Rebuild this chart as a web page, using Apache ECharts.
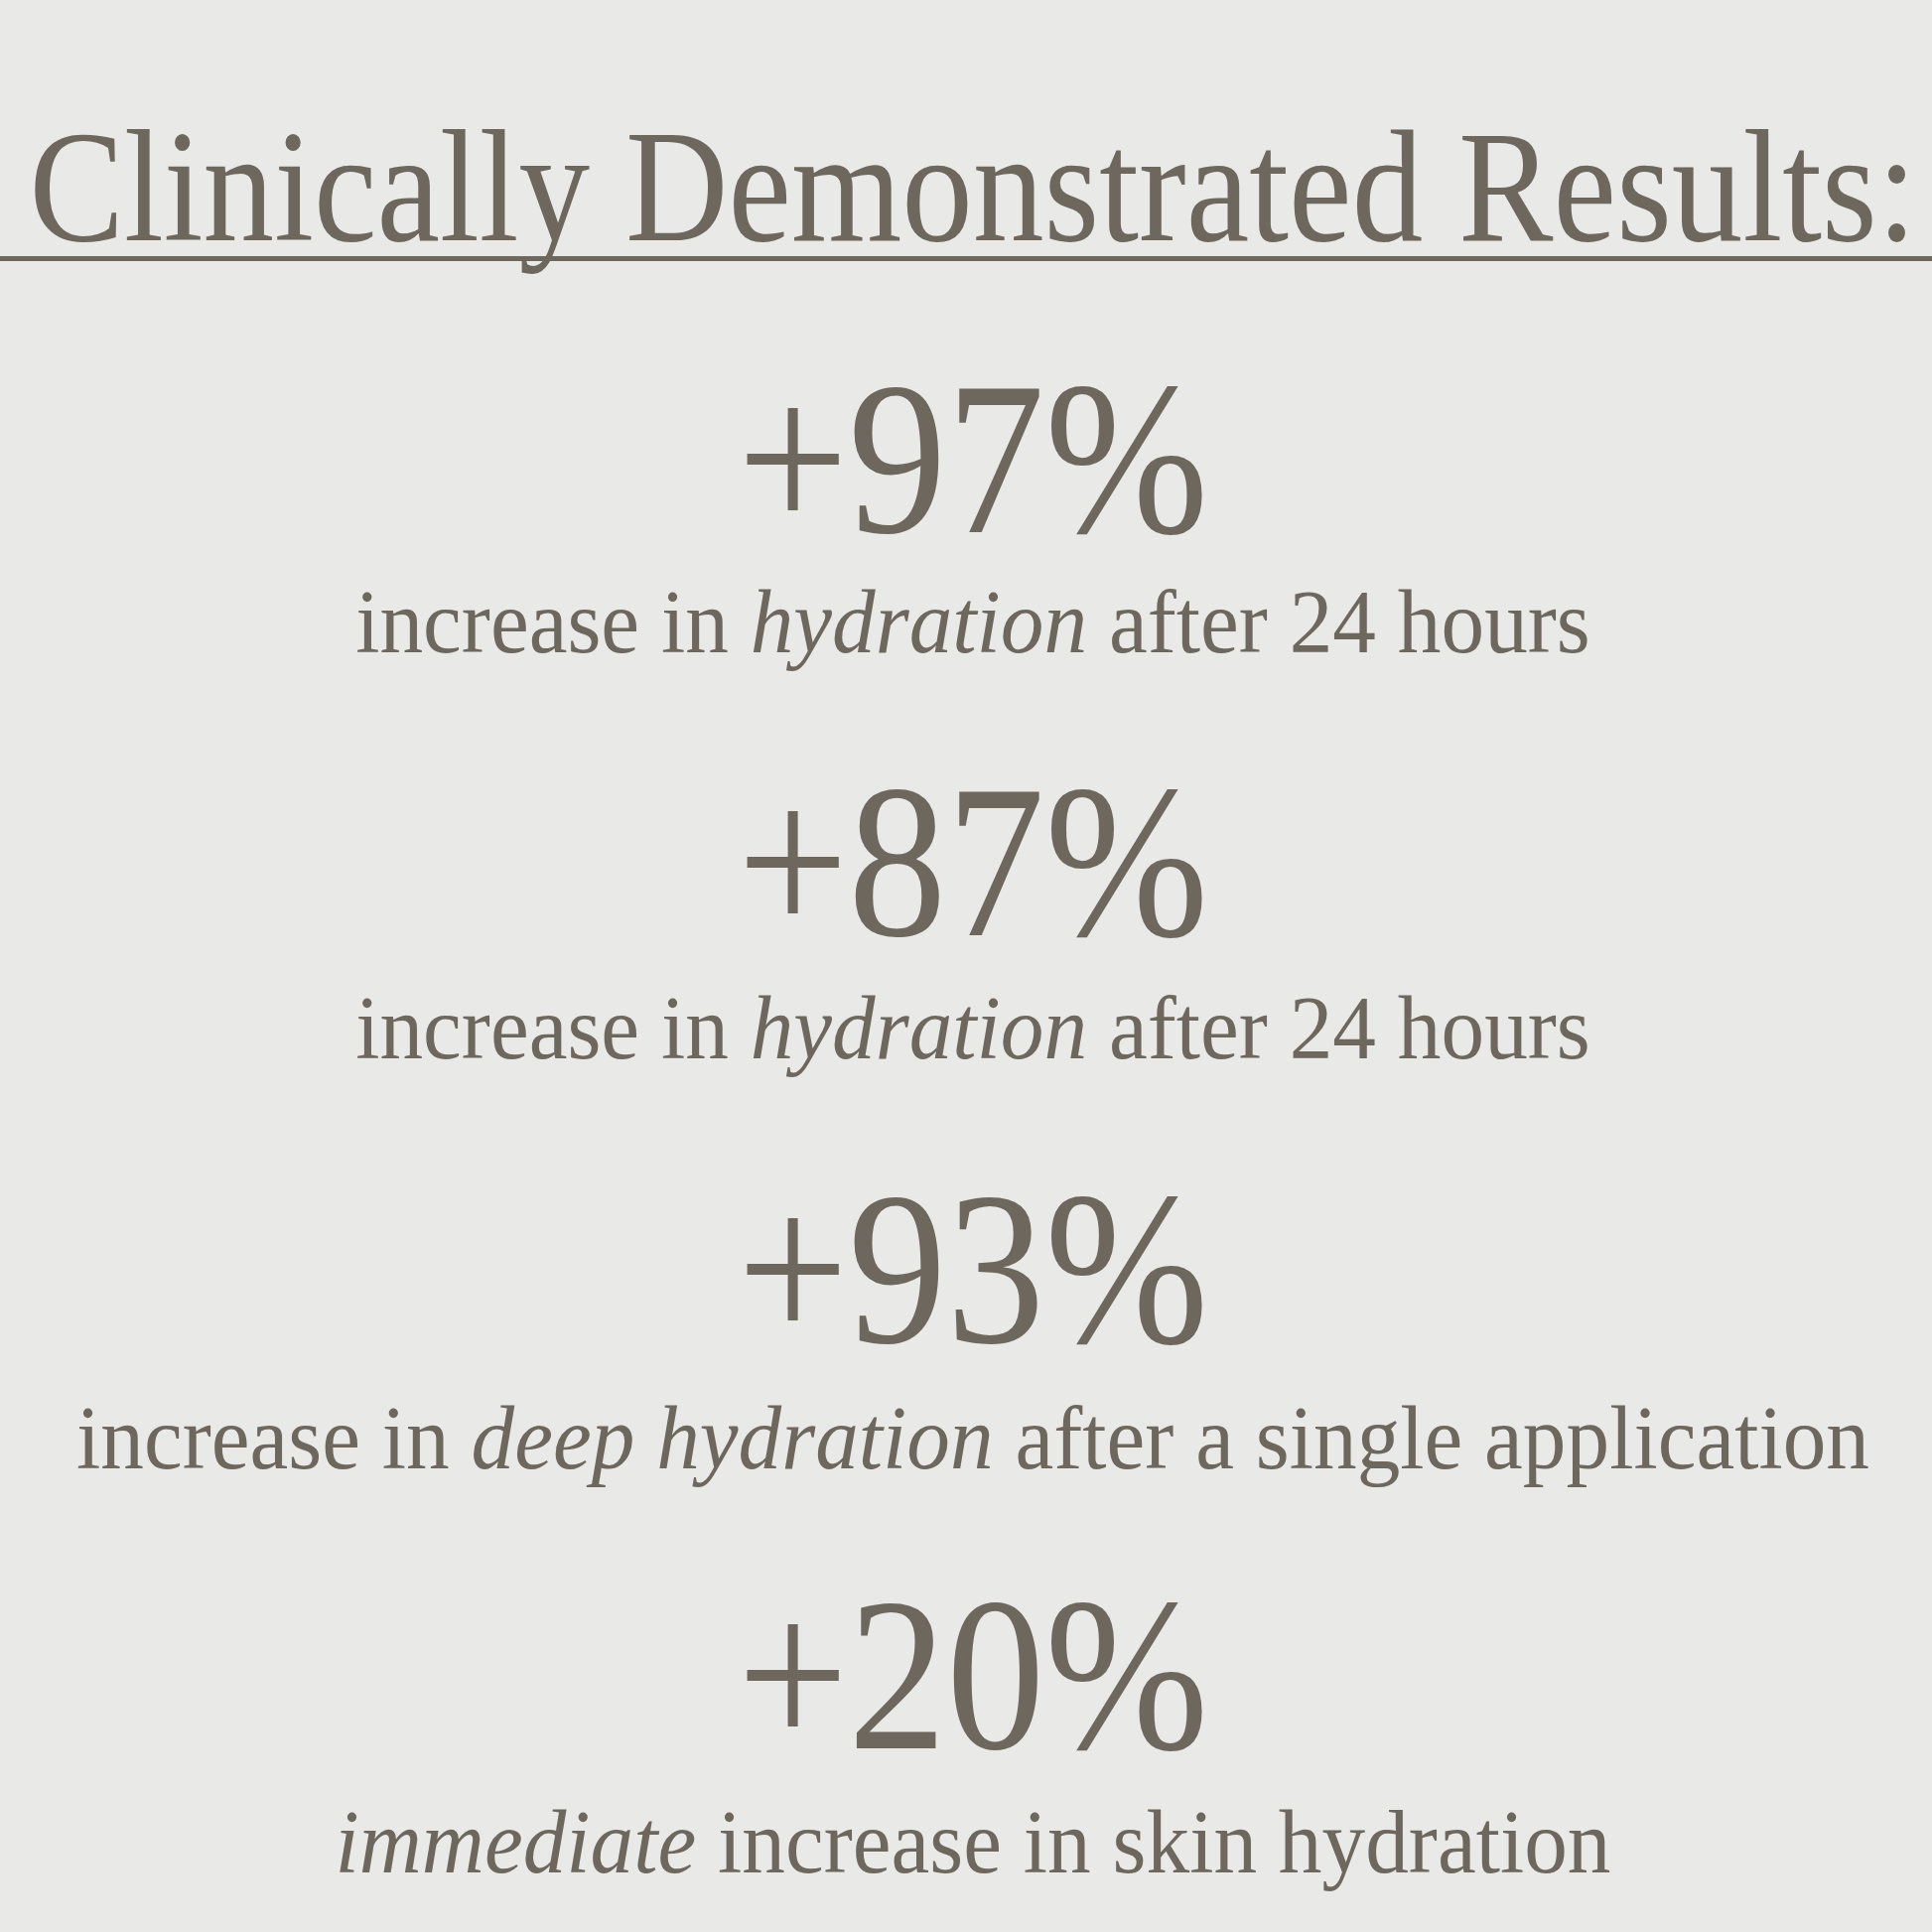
<!DOCTYPE html>
<html>
<head>
<meta charset="utf-8">
<script src="https://cdn.jsdelivr.net/npm/echarts@6/dist/echarts.min.js"></script>
<style>html,body{margin:0;padding:0;background:#e9e9e8}#main{width:1946px;height:1946px}</style>
</head>
<body>
<div id="main"></div>
<script>
var myChart = echarts.init(document.getElementById('main'));

var title = 'Clinically Demonstrated Results:';
var values = [97, 87, 93, 20];
// caption parts: [text, italic?]
var captions = [
    [['increase in ', false], ['hydration', true], [' after 24 hours', false]],
    [['increase in ', false], ['hydration', true], [' after 24 hours', false]],
    [['increase in ', false], ['deep hydration', true], [' after a single application', false]],
    [['immediate', true], [' increase in skin hydration', false]]
];
var numberY = [478, 884, 1294, 1703];
var captionY = [633, 1042, 1455, 1862];

var ink = '#6e675e';
var font = '"Liberation Serif", "DejaVu Serif", serif';

function textEl(text, x, y, size, sx, rich) {
    return {
        type: 'text', x: x, y: y, scaleX: sx,
        style: {
            text: text, fill: ink, fontFamily: font, fontSize: size,
            align: 'center', verticalAlign: 'middle', rich: rich
        }
    };
}

var elements = [];
elements.push(textEl(title, 980, 200, 160, 0.895));
elements.push({
    type: 'rect', shape: { x: 0, y: 258, width: 1946, height: 5 },
    style: { fill: ink }
});
values.forEach(function (v, i) {
    elements.push(textEl('+' + v + '%', 980, numberY[i], 220, 0.9));
    var str = captions[i].map(function (p) {
        return '{' + (p[1] ? 'i' : 'n') + '|' + p[0] + '}';
    }).join('');
    elements.push(textEl(str, 980, captionY[i], 90, 0.97, {
        n: { fontFamily: font, fontSize: 90, fill: ink },
        i: { fontFamily: font, fontSize: 90, fill: ink, fontStyle: 'italic' }
    }));
});

option = {
    backgroundColor: '#e9e9e8',
    graphic: { elements: elements }
};
myChart.setOption(option);
</script>
</body>
</html>
